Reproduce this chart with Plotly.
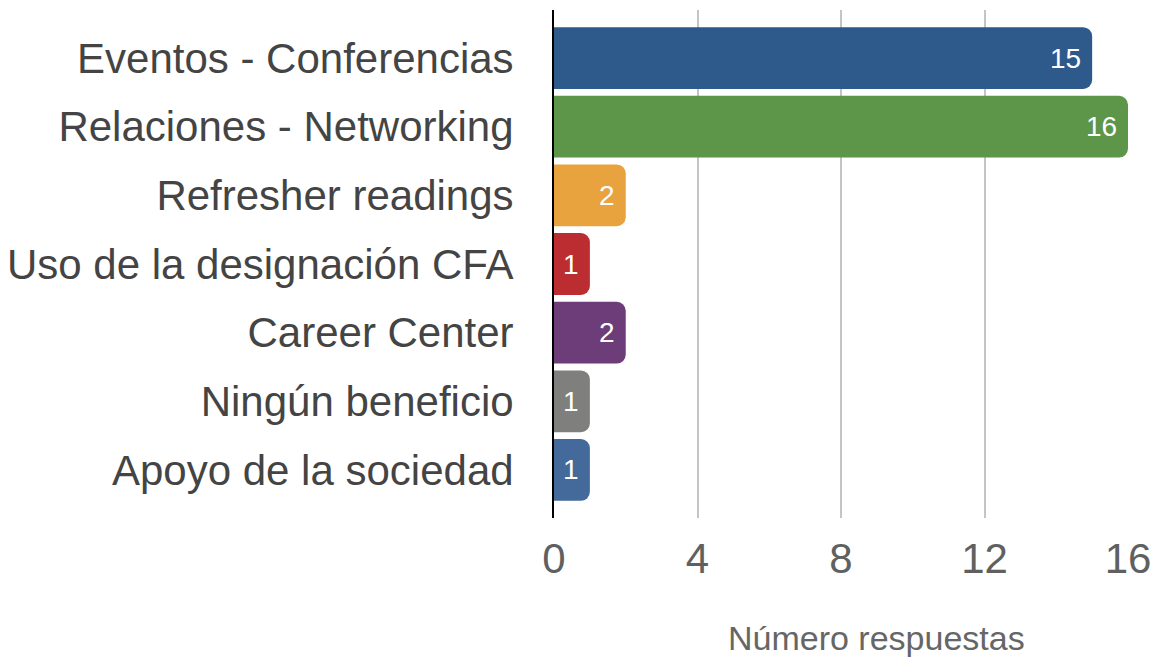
import plotly.graph_objects as go

categories = [
    "Eventos - Conferencias",
    "Relaciones - Networking",
    "Refresher readings",
    "Uso de la designación CFA",
    "Career Center",
    "Ningún beneficio",
    "Apoyo de la sociedad",
]
values = [15, 16, 2, 1, 2, 1, 1]
colors = ["#2E598B", "#5D9648", "#E8A33E", "#BC2D31", "#6C3D79", "#7F807E", "#436A9B"]
x_ticks = [0, 4, 8, 12, 16]
x_title = "Número respuestas"

FONT = "Liberation Sans, Arial, Helvetica, sans-serif"

fig = go.Figure(
    go.Bar(
        y=categories,
        x=values,
        orientation="h",
        marker=dict(color=colors, line_width=0, cornerradius=9),
        hoverinfo="skip",
    )
)

annotations = [
    dict(
        x=v, y=c, xref="x", yref="y", text=str(v), showarrow=False,
        xanchor="right", yanchor="middle", xshift=-9,
        font=dict(family=FONT, size=28, color="white"),
    )
    for c, v in zip(categories, values)
]
# x-axis title (offset to the right of the plot centre, as in the original)
annotations.append(
    dict(
        x=0.5617, y=-0.236, xref="paper", yref="paper", text=x_title,
        showarrow=False, xanchor="center", yanchor="middle",
        font=dict(family=FONT, size=34, color="#666666"),
    )
)

fig.update_layout(
    width=1156,
    height=659,
    margin=dict(l=554, r=28, t=10, b=141, autoexpand=False),
    paper_bgcolor="white",
    plot_bgcolor="white",
    font=dict(family=FONT),
    bargap=0.1,
    showlegend=False,
    annotations=annotations,
    xaxis=dict(
        range=[0, 16],
        tickvals=x_ticks,
        ticktext=[str(t) for t in x_ticks],
        showgrid=True,
        gridcolor="#c4c4c4",
        gridwidth=2,
        zeroline=False,
        showline=False,
        ticks="",
        tickfont=dict(size=42, color="#606060"),
        ticklabelstandoff=12,
        automargin=False,
        fixedrange=True,
    ),
    yaxis=dict(
        categoryorder="array",
        categoryarray=categories,
        range=[6.7, -0.7],
        showgrid=False,
        zeroline=False,
        showline=True,
        linecolor="black",
        linewidth=2,
        ticks="",
        tickfont=dict(size=42, color="#444444"),
        ticklabelstandoff=30,
        automargin=False,
        fixedrange=True,
    ),
)

fig.write_html(
    "out.html",
    config={"displayModeBar": False, "staticPlot": True},
    post_script="document.body.style.margin='0';document.body.style.overflow='hidden';",
)
